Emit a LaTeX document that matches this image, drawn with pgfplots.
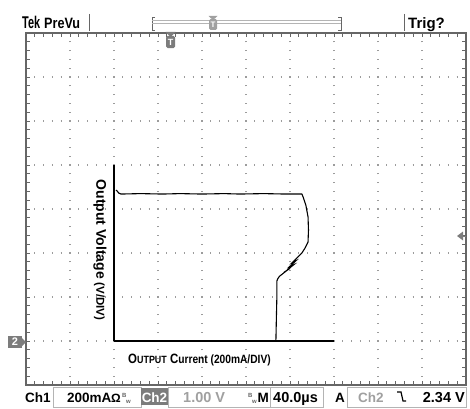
\documentclass[border=0pt]{standalone}
\usepackage{pgfplots}
\pgfplotsset{compat=1.18}
\usepackage{fontspec}
\setmainfont{Liberation Sans}
\newfontfamily\narrow[FakeStretch=0.85]{Liberation Sans}
\definecolor{grat}{HTML}{666666}
\definecolor{dots}{HTML}{9C9C9C}
\definecolor{mkc}{HTML}{7C7C7C}
\definecolor{boxc}{HTML}{B4B4B4}
\definecolor{dimtxt}{HTML}{A0A0A0}

% trace of the scope (in divisions of the inner plot: x 200mA/div, y 1V/div)
\pgfplotstableread{
x y
0.045 3.43
0.07 3.41
0.11 3.36
0.16 3.34
0.60 3.35
1.10 3.34
1.50 3.35
2.00 3.34
2.50 3.35
2.86 3.34
3.40 3.35
3.90 3.34
4.27 3.34
4.30 3.27
4.36 3.09
4.41 2.82
4.42 2.52
4.41 2.25
4.34 2.11
4.27 2.00
4.16 1.89
4.05 1.78
4.13 1.82
3.99 1.69
4.08 1.73
3.93 1.61
4.00 1.65
3.86 1.56
3.90 1.58
3.76 1.47
3.72 1.41
3.70 1.36
3.70 0.93
3.69 0.50
3.68 0.02
}\tracedata

\begin{document}
\begin{tikzpicture}[x=1pt,y=1pt]
\fill[white] (0,0) rectangle (470,408);

% graticule
\begin{axis}[at={(26pt,23pt)}, anchor=south west, scale only axis,
  width=440pt, height=352pt, xmin=0, xmax=10, ymin=0, ymax=8,
  xtick={0,...,10}, ytick={0,...,8}, minor x tick num=4, minor y tick num=4,
  xticklabels={}, yticklabels={}, tick align=inside,
  major tick length=4pt, minor tick length=4pt,
  tick style={grat, line width=0.7pt},
  grid=major,
  major grid style={dots, line width=1.1pt, dash pattern=on 1.1pt off 7.7pt, dash phase=0.55pt},
  axis line style={grat, line width=1.8pt}]
\end{axis}

% inner plot
\begin{axis}[at={(114pt,67pt)}, anchor=south west, scale only axis,
  width=220pt, height=176pt, xmin=0, xmax=5, ymin=0, ymax=4,
  axis x line=bottom, axis y line=left,
  axis line style={-, black, line width=1.4pt},
  xtick=\empty, ytick=\empty, clip=false]
\addplot[black, line width=1.1pt] table {\tracedata};
\end{axis}

% inner labels
\node[rotate=-90, inner sep=0, font=\fontsize{14}{14}\selectfont\bfseries] at (100,158)
  {Output Voltage {\fontsize{11.5}{11.5}\selectfont(V/DIV)}};
\node[anchor=base west, inner sep=0, font=\fontsize{13.5}{13.5}\selectfont\narrow\bfseries] at (128,45)
  {O{\fontsize{10.5}{10.5}\selectfont UTPUT} C{\fontsize{12}{12}\selectfont urrent (200mA/DIV)}};

% header
\node[anchor=base west, inner sep=0] at (22,379) {\scalebox{0.64}[1]{\fontsize{17}{17}\selectfont\bfseries Tek}};
\node[anchor=base west, inner sep=0] at (44,379) {\scalebox{0.84}[1]{\fontsize{15}{15}\selectfont\bfseries PreVu}};
\node[anchor=base west, inner sep=0, font=\fontsize{15}{15}\selectfont\bfseries] at (408,379) {Trig?};
\draw[grat, line width=0.8pt] (89,394) -- (89,377);
\draw[grat, line width=0.8pt] (404,394) -- (404,377);
\draw[grat, line width=0.8pt] (155,391) -- (152,391) -- (152,378) -- (155,378);
\draw[grat, line width=0.8pt] (338,391) -- (341,391) -- (341,378) -- (338,378);
\draw[boxc, line width=0.7pt] (152,388) -- (341,388);
\draw[boxc, line width=0.7pt] (152,385) -- (341,385);
% view marker
\fill[dimtxt] (208.5,392) -- (217.5,392) -- (213,388) -- cycle;
\fill[dimtxt, rounded corners=1.5pt] (209,389) rectangle (217,378);
\node[white, font=\fontsize{8}{8}\selectfont\bfseries, inner sep=0] at (213,383.5) {T};
% trigger marker
\fill[mkc] (165.5,376) -- (175.5,376) -- (170.5,371) -- cycle;
\fill[mkc, rounded corners=1.5pt] (166,372) rectangle (175,360);
\node[white, font=\fontsize{9}{9}\selectfont\bfseries, inner sep=0] at (170.5,366) {T};
% trigger level marker (right)
\fill[mkc] (457,172) -- (463,176.5) -- (463,167.5) -- cycle;
\draw[mkc, line width=1pt] (463,172) -- (466,172);
% channel 2 ground marker
\fill[mkc] (8,60) rectangle (22,72);
\fill[mkc] (22,70) -- (26,66) -- (22,62) -- cycle;
\node[white, font=\fontsize{11}{11}\selectfont\bfseries, inner sep=0] at (15,66) {2};

% status bar
\draw[boxc, line width=0.8pt] (53,1) rectangle (141,21);
\draw[boxc, line width=0.8pt] (168,1) rectangle (270,21);
\draw[boxc, line width=0.8pt] (270,1) rectangle (323,21);
\draw[boxc, line width=0.8pt] (347,1) rectangle (466,21);
\fill[mkc] (141,3) rectangle (168,20);
\node[anchor=base west, inner sep=0, font=\fontsize{13.5}{13.5}\selectfont\bfseries] at (25,6) {Ch1};
\node[anchor=base west, inner sep=0, font=\fontsize{13.5}{13.5}\selectfont\bfseries] at (67,6) {200mA};
\node[anchor=base west, inner sep=0, font=\fontsize{12}{12}\selectfont\bfseries] at (111,6) {Ω};
\node[anchor=base west, inner sep=0, font=\fontsize{6}{6}\selectfont\bfseries, grat] at (122,11) {B};
\node[anchor=base west, inner sep=0, font=\fontsize{6}{6}\selectfont\bfseries, grat] at (126,5) {w};
\node[anchor=base, inner sep=0, white, font=\fontsize{13.5}{13.5}\selectfont\bfseries] at (154.5,6) {Ch2};
\node[anchor=base west, inner sep=0, dimtxt, font=\fontsize{14.5}{14.5}\selectfont\bfseries] at (183,6) {1.00 V};
\node[anchor=base west, inner sep=0, font=\fontsize{6}{6}\selectfont\bfseries, grat] at (248,11) {B};
\node[anchor=base west, inner sep=0, font=\fontsize{6}{6}\selectfont\bfseries, grat] at (252,5) {w};
\node[anchor=base west, inner sep=0, font=\fontsize{13.5}{13.5}\selectfont\bfseries] at (257.5,6) {M};
\node[anchor=base west, inner sep=0, font=\fontsize{14.5}{14.5}\selectfont\bfseries] at (273,6) {40.0µs};
\node[anchor=base west, inner sep=0, font=\fontsize{13.5}{13.5}\selectfont\bfseries] at (335,6) {A};
\node[anchor=base west, inner sep=0, dimtxt, font=\fontsize{13.5}{13.5}\selectfont\bfseries] at (358,6) {Ch2};
\draw[black, line width=1.2pt] (397,16) -- (401,16) -- (403,7) -- (406,7);
\node[anchor=base east, inner sep=0, font=\fontsize{14.5}{14.5}\selectfont\bfseries] at (465,6) {2.34 V};

\pgfresetboundingbox
\useasboundingbox (0,0) rectangle (470,408);
\end{tikzpicture}
\end{document}
